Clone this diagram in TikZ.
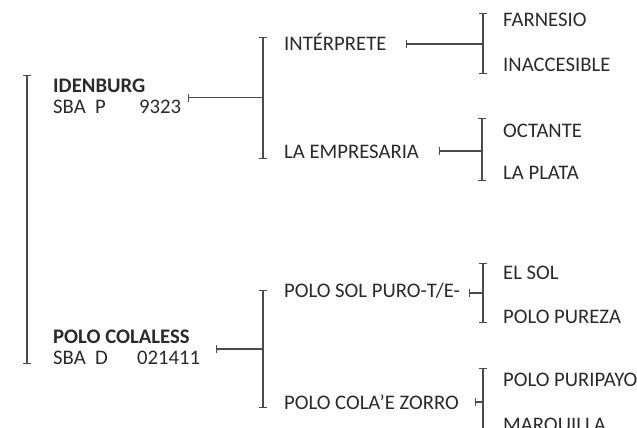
\documentclass[tikz,border=0pt]{standalone}
\usepackage{fontspec}
\setmainfont{Carlito}
\usepackage{xcolor}
\usetikzlibrary{arrows.meta,positioning}
\definecolor{ink}{HTML}{2A2A2A}
\definecolor{rule}{HTML}{4A4A4A}
\tikzset{
  horse/.style={anchor=base west, inner sep=0pt, text=ink,
    font=\fontsize{20.7}{24}\selectfont},
  sire/.style={horse, font=\fontsize{20.7}{24}\selectfont\bfseries},
  bracket/.style={draw=rule, line width=1.1pt, {Bar[width=8pt]}-{Bar[width=8pt]}},
  link/.style={draw=rule, line width=1.1pt, {Bar[width=8pt,line width=0.8pt]}-}
}

\begin{document}
\begin{tikzpicture}[x=1pt,y=-1pt]
\useasboundingbox (0,0) rectangle (637,428);

% first generation
\coordinate (rootTop) at (27,75);
\coordinate (rootBot) at (27,364);
\draw[bracket] (rootTop) -- (rootBot);
\node[sire] (idenburg) at (53,92.5) {IDENBURG};
\node[horse] (idenburgReg) at (53,113) {\makebox[42pt][l]{SBA}\makebox[44pt][l]{P}9323};
\node[sire] (colaless) at (53,343) {POLO COLALESS};
\node[horse] (colalessReg) at (53,364.5) {\makebox[42pt][l]{SBA}\makebox[42pt][l]{D}021411};

% second generation, sire side
\coordinate (sireTop) at (263,37);
\coordinate (sireBot) at (263,159);
\coordinate (sireMid) at (263,97.5);
\draw[bracket] (sireTop) -- (sireBot);
\coordinate (idenburgTip) at (188,97.5);
\draw[link] (idenburgTip) -- (sireMid);
\node[horse] (interprete) at (284,51) {INTÉRPRETE};
\node[horse] (empresaria) at (284,158) {LA EMPRESARIA};

% second generation, dam side
\coordinate (damTop) at (263,290);
\coordinate (damBot) at (263,408);
\coordinate (damMid) at (263,349);
\draw[bracket] (damTop) -- (damBot);
\coordinate (colalessTip) at (216,349);
\draw[link] (colalessTip) -- (damMid);
\node[horse] (solpuro) at (284,297) {POLO SOL PURO-T/E-};
\node[horse] (colazorro) at (284,409) {POLO COLA'E ZORRO};

% third generation
\coordinate (interTop) at (483,13);
\coordinate (interBot) at (483,74);
\coordinate (interMid) at (483,44);
\draw[bracket] (interTop) -- (interBot);
\coordinate (interTip) at (406,44);
\draw[link] (interTip) -- (interMid);
\node[horse] (farnesio) at (503,27) {FARNESIO};
\node[horse] (inaccesible) at (503,71.5) {INACCESIBLE};

\coordinate (empTop) at (482,118);
\coordinate (empBot) at (482,181);
\coordinate (empMid) at (482,151);
\draw[bracket] (empTop) -- (empBot);
\coordinate (empTip) at (439,151);
\draw[link] (empTip) -- (empMid);
\node[horse] (octante) at (503,137) {OCTANTE};
\node[horse] (laplata) at (503,179) {LA PLATA};

\coordinate (solTop) at (483,263);
\coordinate (solBot) at (483,323);
\coordinate (solMid) at (483,293);
\draw[bracket] (solTop) -- (solBot);
\coordinate (solTip) at (469,293);
\draw[link] (solTip) -- (solMid);
\node[horse] (elsol) at (503,279) {EL SOL};
\node[horse] (pureza) at (503,323) {POLO PUREZA};

\coordinate (zorroTop) at (483,368);
\coordinate (zorroBot) at (483,436);
\coordinate (zorroMid) at (483,402);
\draw[bracket] (zorroTop) -- (zorroBot);
\coordinate (zorroTip) at (475,402);
\draw[link] (zorroTip) -- (zorroMid);
\node[horse] (puripayo) at (503,386) {POLO PURIPAYO};
\node[horse] (marquilla) at (503,431) {MARQUILLA};
\end{tikzpicture}
\end{document}
